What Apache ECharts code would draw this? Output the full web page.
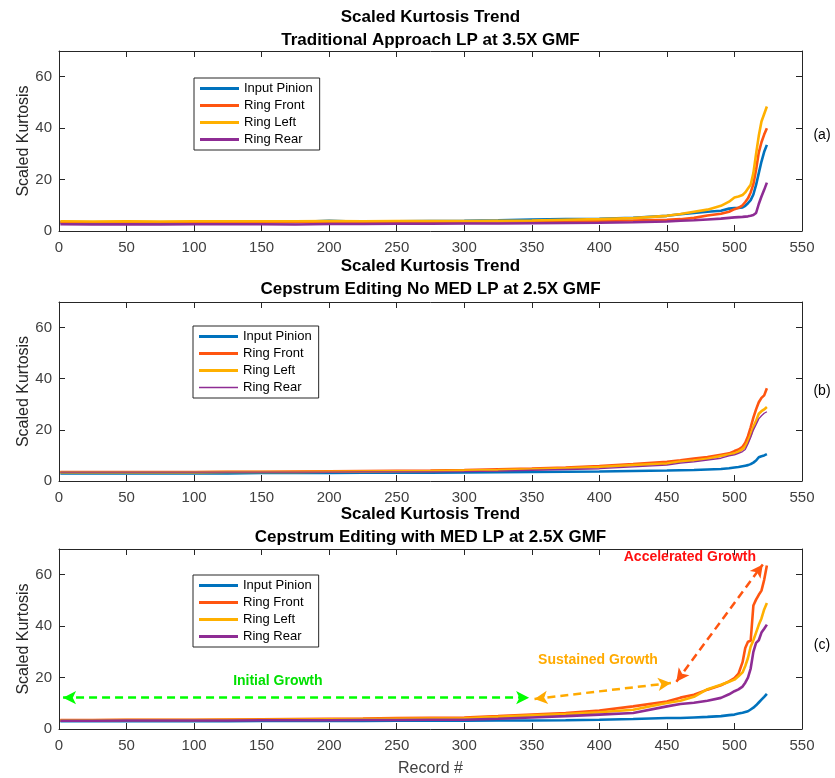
<!DOCTYPE html>
<html><head><meta charset="utf-8">
<script src="https://cdn.jsdelivr.net/npm/echarts@6/dist/echarts.min.js"></script>
<style>html,body{margin:0;padding:0;background:#fff}#c{width:835px;height:778px}</style>
</head><body><div id="c"></div>
<script>
// ---------- data ----------
const records = [1,25,50,75,100,125,150,175,200,225,250,275,300,325,350,375,400,425,450,460,470,480,490,496,500,503,506,508,510,512,514,516,518,520,522,524];
const seriesNames = ['Input Pinion','Ring Front','Ring Left','Ring Rear'];
const panelTitles = ['Traditional Approach LP at 3.5X GMF','Cepstrum Editing No MED LP at 2.5X GMF','Cepstrum Editing with MED LP at 2.5X GMF'];
const mainTitle = 'Scaled Kurtosis Trend';
const panelTags = ['(a)','(b)','(c)'];

// Panel (a) Traditional Approach
const pinionA = [3.3,3.2,3.3,3.2,3.3,3.3,3.4,3.5,4.0,3.6,3.8,3.9,4.0,4.2,4.5,4.6,4.7,5.1,5.9,6.5,7.0,7.5,7.9,8.7,8.9,9.0,9.2,9.8,10.8,12.0,14.2,17.9,22.5,27.0,30.8,33.5];
const frontA  = [3.5,3.4,3.5,3.4,3.5,3.5,3.5,3.5,3.6,3.5,3.6,3.6,3.6,3.7,3.7,3.8,3.9,4.1,4.4,4.6,5.1,6.0,6.7,7.5,8.5,9.0,10.0,11.3,12.7,15.0,18.2,23.8,30.5,34.5,37.5,40.0];
const leftA   = [3.8,3.7,3.8,3.7,3.8,3.8,3.8,3.8,3.9,3.8,3.9,3.9,3.9,4.0,4.1,4.4,4.6,5.0,5.9,6.6,7.5,8.3,9.8,11.4,13.0,13.4,14.0,15.0,16.5,18.0,22.5,30.0,37.0,42.6,45.5,48.4];
const rearA   = [2.6,2.5,2.6,2.5,2.6,2.6,2.6,2.5,2.7,2.7,2.8,2.8,2.9,2.9,3.0,3.1,3.2,3.4,3.7,4.0,4.2,4.5,4.8,5.1,5.3,5.4,5.5,5.6,5.7,5.9,6.2,7.0,10.5,13.4,16.0,18.8];
// Panel (b) Cepstrum Editing, no MED
const pinionB = [3.0,3.0,3.0,3.0,3.0,3.0,3.1,3.1,3.1,3.2,3.2,3.2,3.3,3.4,3.5,3.6,3.7,3.9,4.1,4.2,4.3,4.5,4.7,5.0,5.3,5.5,5.8,6.0,6.2,6.6,7.2,8.0,9.3,9.7,10.0,10.5];
const frontB  = [3.5,3.5,3.5,3.5,3.5,3.6,3.6,3.7,3.8,3.9,4.0,4.1,4.3,4.6,4.9,5.3,5.8,6.6,7.5,8.1,8.8,9.4,10.3,10.8,11.7,12.3,13.4,15.0,17.5,21.0,24.8,28.0,30.8,32.5,33.5,36.3];
const leftB   = [3.4,3.4,3.4,3.4,3.4,3.5,3.5,3.5,3.6,3.7,3.8,3.9,4.1,4.3,4.6,5.0,5.5,6.2,6.8,7.6,8.0,8.7,9.8,10.4,10.8,11.5,12.5,13.5,15.5,18.0,21.2,23.5,26.3,27.3,28.0,28.9];
const rearB   = [3.5,3.5,3.5,3.5,3.5,3.5,3.5,3.5,3.5,3.6,3.6,3.6,3.7,3.9,4.2,4.5,4.8,5.5,6.2,7.0,7.5,8.2,8.9,9.8,10.2,10.8,11.5,12.3,14.5,17.0,19.9,22.0,24.3,25.5,26.5,27.1];
// Panel (c) Cepstrum Editing with MED
const pinionC = [3.0,3.0,3.0,3.0,3.0,3.0,3.1,3.1,3.1,3.1,3.2,3.2,3.2,3.3,3.3,3.4,3.6,3.9,4.3,4.3,4.5,4.7,5.0,5.4,5.6,6.0,6.3,6.6,6.9,7.6,8.3,9.2,10.3,11.4,12.5,13.7];
const frontC  = [3.5,3.5,3.6,3.6,3.6,3.7,3.8,3.9,4.0,4.1,4.3,4.4,4.5,5.0,5.6,6.2,7.2,8.8,10.7,12.2,13.3,15.3,17.0,18.5,19.8,21.5,26.0,31.5,33.9,34.3,48.0,50.3,52.2,53.8,58.0,63.6];
const leftC   = [3.4,3.4,3.5,3.5,3.5,3.6,3.6,3.7,3.8,3.9,4.0,4.1,4.2,4.7,5.3,5.8,6.5,7.5,10.1,11.0,12.5,15.5,17.2,18.4,19.2,20.5,22.0,24.5,27.6,32.0,34.5,37.5,40.5,43.0,46.5,49.0];
const rearC   = [3.2,3.2,3.3,3.3,3.3,3.3,3.4,3.4,3.4,3.5,3.5,3.6,3.6,4.0,4.5,5.0,5.6,6.2,8.8,9.7,10.2,11.0,12.1,13.5,14.7,15.4,16.5,18.0,20.0,23.5,30.0,33.5,34.5,37.5,39.0,40.6];

const panelData = [[pinionA,frontA,leftA,rearA],[pinionB,frontB,leftB,rearB],[pinionC,frontC,leftC,rearC]];

// annotation arrows in panel (c): [record, value] at each end
const arrowStarts = [[3,12.2],[352,11.7],[457,18.4]];
const arrowEnds   = [[348,12.2],[453,17.9],[521,64.0]];
const annotationTexts = ['Initial Growth','Sustained Growth','Accelerated Growth'];
const annotationAt = [[162,18.8],[399,26.8],[467,66.8]];

const xTickStep = 50, xMax = 550, yTickStep = 20, yMax = 70;

// ---------- styles / layout ----------
const FONT = '"Liberation Sans", Arial, Helvetica, sans-serif';
const colors = ['#0072BD','#FF5510','#FFB000','#8E2C94'];
const arrowColors = ['#00FF00','#FFAA00','#FF5510'];
const annotationColors = ['#00E000','#FFAA00','#FF1010'];
const AX = '#262626';
const grids = [
  {left:59, width:743, top:51, height:180},
  {left:59, width:743, top:302, height:179},
  {left:59, width:743, top:549, height:180}
];
const legendPos = [[194,78],[193,326],[193,575]];
const titleTops = [5.5, 255, 503];
const tagY = [135, 391, 645];

const xAxes = [], yAxes = [], series = [];
grids.forEach((g, i) => {
  const base = {
    type:'value', gridIndex:i, min:0, max:xMax, interval:xTickStep,
    axisLine:{show:true, onZero:false, lineStyle:{color:AX, width:1}},
    axisTick:{show:true, inside:true, length:6, lineStyle:{color:AX}},
    splitLine:{show:false}
  };
  xAxes.push(Object.assign({}, base, {
    position:'bottom',
    axisLabel:{show:true, fontSize:15, color:'#404040', margin:9, fontFamily:FONT},
    name: i === 2 ? 'Record #' : '', nameLocation:'middle', nameGap:32,
    nameTextStyle:{fontSize:16, color:'#404040', fontFamily:FONT}
  }));
  xAxes.push(Object.assign({}, base, {position:'top', axisLabel:{show:false}}));
  const ybase = {
    type:'value', gridIndex:i, min:0, max:yMax, interval:yTickStep,
    axisLine:{show:true, onZero:false, lineStyle:{color:AX, width:1}},
    axisTick:{show:true, inside:true, length:6, lineStyle:{color:AX}},
    splitLine:{show:false}
  };
  yAxes.push(Object.assign({}, ybase, {
    position:'left',
    axisLabel:{show:true, fontSize:15, color:'#404040', margin:7, fontFamily:FONT,
      formatter: v => (v % yTickStep === 0 ? String(v) : '')},
    name:'Scaled Kurtosis', nameLocation:'middle', nameGap:27, nameMoveOverlap:false,
    nameTextStyle:{fontSize:16, color:AX, fontFamily:FONT}
  }));
  yAxes.push(Object.assign({}, ybase, {position:'right', axisLabel:{show:false}}));

  panelData[i].forEach((vals, k) => {
    const s = {
      type:'line', name:seriesNames[k], xAxisIndex:2*i, yAxisIndex:2*i,
      data: records.map((r, j) => [r, vals[j]]),
      showSymbol:false, symbol:'none', smooth:false,
      lineStyle:{color:colors[k], width:(i === 1 && k === 3) ? 1.3 : 2.6},
      itemStyle:{color:colors[k]},
      emphasis:{disabled:true}, animation:false, z: 2 + k
    };
    if (i === 2 && k === 0) {
      s.markLine = {
        silent:true, animation:false, symbol:['arrow','arrow'], symbolSize:[10,13],
        label:{show:false}, emphasis:{disabled:true},
        data: arrowStarts.map((a, n) => [
          {coord:a, lineStyle:{color:arrowColors[n], width:2.5, type:[8,5]}, itemStyle:{color:arrowColors[n]}},
          {coord:arrowEnds[n]}
        ])
      };
      s.markPoint = {
        silent:true, animation:false, symbol:'rect', symbolSize:0,
        label:{show:true, position:'inside', fontSize:14, fontWeight:'bold', fontFamily:FONT, formatter:'{b}'},
        data: annotationTexts.map((t, n) => ({name:t, coord:annotationAt[n], label:{color:annotationColors[n]}}))
      };
    }
    series.push(s);
  });
});

const thickIcon = 'rect';
const thinIcon = 'path://M0,0L39,0L39,1.3L0,1.3Z';

const option = {
  animation:false,
  backgroundColor:'#fff',
  title: titleTops.map((t, i) => ({
    text: mainTitle + '\n' + panelTitles[i],
    left:430.5, textAlign:'center', top:t, padding:0,
    textStyle:{fontSize:17, fontWeight:'bold', color:'#000', lineHeight:23, fontFamily:FONT}
  })),
  grid: grids,
  xAxis: xAxes,
  yAxis: yAxes,
  legend: legendPos.map((p, i) => ({
    orient:'vertical', left:p[0], top:p[1], selectedMode:false,
    itemWidth:39, itemHeight:3, itemGap:0, padding:[2,7,2,6],
    borderColor:AX, borderWidth:1, backgroundColor:'#fff', symbolKeepAspect:true,
    textStyle:{fontSize:13, lineHeight:17, color:'#000', fontFamily:FONT},
    data: seriesNames.map((n, k) => ({name:n, icon:(i === 1 && k === 3) ? thinIcon : thickIcon}))
  })),
  graphic: panelTags.map((t, i) => ({
    type:'text', x:822, y:tagY[i],
    style:{text:t, font:'14px ' + FONT, fill:'#000', align:'center', verticalAlign:'middle'}
  })),
  series: series
};
const chart = echarts.init(document.getElementById('c'), null, {renderer:'canvas'});
chart.setOption(option);
</script></body></html>
